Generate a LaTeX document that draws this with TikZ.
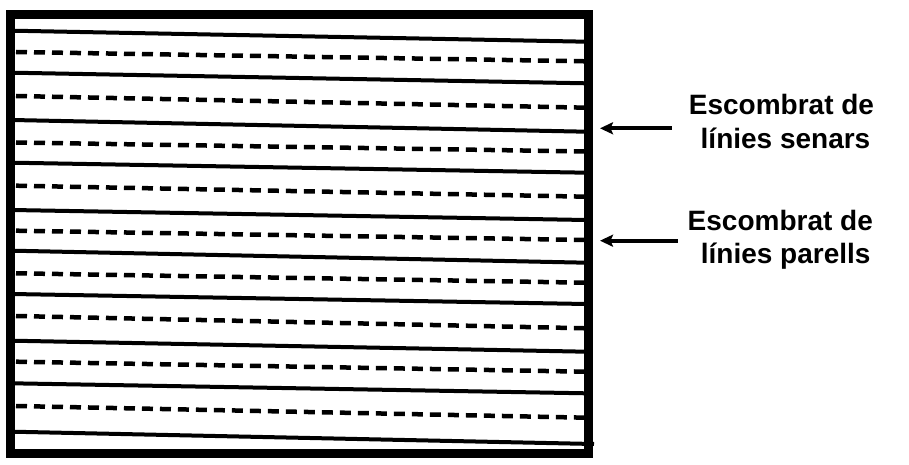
\documentclass[tikz,border=0pt]{standalone}
\usepackage{fontspec}
\setmainfont{Liberation Sans}
\usetikzlibrary{arrows.meta}
\begin{document}
\begin{tikzpicture}[x=1pt,y=-1pt,
  solidline/.style={line width=4pt},
  dashline/.style={line width=4.5pt,dash pattern=on 11pt off 7pt},
  frame/.style={line width=9pt},
  arr/.style={line width=4pt,-{Stealth[length=13pt,width=12pt,inset=2.5pt]}},
  lbl/.style={font=\bfseries\fontsize{28}{33}\selectfont,inner sep=0pt,anchor=base}]
\useasboundingbox (0,0) rectangle (909,465);
% solid lines
\foreach \l/\r in {30.7/41.7,72.7/83.3,120/131.7,162.7/172.7,210/220,250.7/262.7,294/304,340.7/351.7,383.3/393.3}
  \draw[solidline] (12,\l) -- (586,\r);
\draw[solidline] (12,431.7) -- (594,444);
% dashed lines
\foreach \l/\r in {52/61.3,96/107.7,142.5/151.5,185.7/196.7,230.7/240,273.3/282.7,316/328.3,361.7/371.7,406/417.7}
  \draw[dashline] (16,\l) -- (586,\r);
% frame
\draw[frame] (10.5,14.5) rectangle (588.8,453.8);
% labels
\node[lbl] (s1) at (781.5,115) {Escombrat de};
\node[lbl] (s2) at (785.5,148.3) {línies senars};
\node[lbl] (p1) at (780.3,230.7) {Escombrat de};
\node[lbl] (p2) at (785.7,263.3) {línies parells};
% arrows
\coordinate (st) at (671.7,128.3);
\coordinate (sh) at (600,128.3);
\coordinate (pt) at (677.7,240.7);
\coordinate (ph) at (600,240.7);
\draw[arr] (st) -- (sh);
\draw[arr] (pt) -- (ph);
\end{tikzpicture}
\end{document}
